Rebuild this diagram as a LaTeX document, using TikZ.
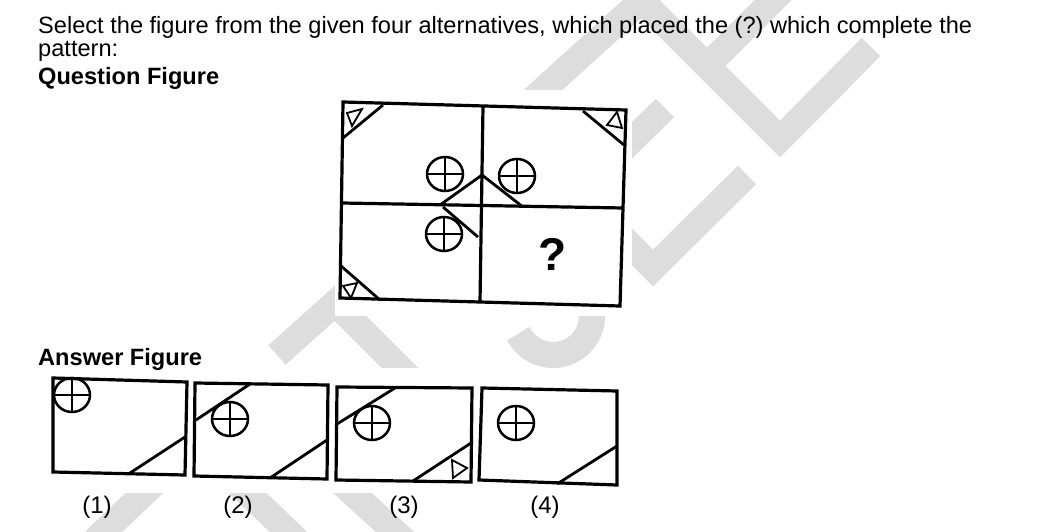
\documentclass[tikz,border=0pt]{standalone}
\usepackage{fontspec}
\setmainfont{Liberation Sans}
\definecolor{wm}{RGB}{221,221,221}
\frenchspacing
\begin{document}
\begin{tikzpicture}[x=1pt,y=-1pt,
  wmband/.style={draw=wm,line width=26pt,line cap=butt,line join=miter},
  paper/.style={fill=white,draw=none},
  frame/.style={draw=black,line width=3.2pt,line join=miter},
  cutline/.style={draw=black,line width=2.8pt},
  plusline/.style={draw=black,line width=2.5pt},
  tri/.style={draw=black,line width=1.8pt,line join=miter},
  qtext/.style={anchor=base west,inner sep=0pt,font=\fontsize{23.6}{28}\selectfont},
  htext/.style={anchor=base west,inner sep=0pt,font=\fontsize{23.6}{28}\selectfont\bfseries},
  lbl/.style={anchor=center,inner sep=0pt,font=\fontsize{24}{28}\selectfont},
  cplus/.pic={\draw[plusline] (0,0) ellipse[x radius=18,y radius=17];
              \draw[plusline] (-18,0) -- (18,0) (0,-17) -- (0,17);}
]
\useasboundingbox[fill=white] (0,0) rectangle (1064,532);

% watermark
\draw[wmband] (532,100) -- (652,-9);
\draw[wmband] (630,-11) -- (780,139) -- (871,47);
\draw[wmband] (707,66) -- (785,-12);
\draw[wmband] (615,157) -- (665,108);
\draw[wmband] (615,230) -- (653,268) -- (747,175);
\draw[wmband] (592,270) -- (592,316) arc[start angle=0,end angle=153,radius=39];
\draw[wmband] (277,355) -- (335,303) -- (410,378);
\draw[wmband] (160,478) -- (95,540);
\draw[wmband] (230,476) -- (300,543);
\draw[wmband] (336,478) -- (405,541);

% white image areas
\path[paper] (335,90) rectangle (632,316);
\path[paper] (36,368) rectangle (625,493);

% text
\node[qtext] (l1) at (38,34) {Select the figure from the given four alternatives, which placed the (?) which complete the};
\node[qtext] (l2) at (38,57) {pattern:};
\node[htext] (qf) at (38,85) {Question Figure};
\node[htext] (af) at (38,365) {Answer Figure};

% question figure
\draw[frame] (343,102) -- (626,110) -- (620,306) -- (340,298) -- cycle;
\draw[frame] (483,106) -- (480,302);
\draw[frame] (342,203) -- (623,208);
\draw[cutline] (440,205) -- (482,175) -- (523,207);
\draw[cutline] (443,207) -- (478,237);
\draw[cutline] (343,138) -- (383,105);
\draw[cutline] (583,111) -- (624,145);
\draw[cutline] (341,266) -- (380,300);
\draw[tri] (347,113) -- (362,109) -- (352,126) -- cycle;
\draw[tri] (607,125) -- (617,112) -- (622,128) -- cycle;
\draw[tri] (343,286) -- (357,283) -- (351,298) -- cycle;
\pic at (445,174) {cplus};
\pic at (517,176) {cplus};
\pic at (444,234) {cplus};
\node[anchor=center,inner sep=0pt,font=\fontsize{46}{46}\selectfont\bfseries] (qm) at (553,254) {?};

% answer figure 1
\draw[frame] (53,378) -- (187,382) -- (185,475) -- (53,472) -- cycle;
\pic at (72,395) {cplus};
\draw[cutline] (130,473) -- (185,437);
% answer figure 2
\draw[frame] (195,383) -- (328,385) -- (327,479) -- (194,476) -- cycle;
\pic at (230,419) {cplus};
\draw[cutline] (196,420) -- (250,384);
\draw[cutline] (270,478) -- (327,440);
% answer figure 3
\draw[frame] (337,387) -- (472,388) -- (471,482) -- (336,480) -- cycle;
\pic at (372,423) {cplus};
\draw[cutline] (337,424) -- (395,388);
\draw[cutline] (413,481) -- (471,443);
\draw[tri] (452,460) -- (467,468) -- (453,478) -- cycle;
% answer figure 4
\draw[frame] (482,388) -- (617,391) -- (617,485) -- (479,480) -- cycle;
\pic at (516,423) {cplus};
\draw[cutline] (557,484) -- (617,446);

\node[lbl] (a1) at (97,507) {(1)};
\node[lbl] (a2) at (238,507) {(2)};
\node[lbl] (a3) at (404,507) {(3)};
\node[lbl] (a4) at (545,507) {(4)};
\end{tikzpicture}
\end{document}
